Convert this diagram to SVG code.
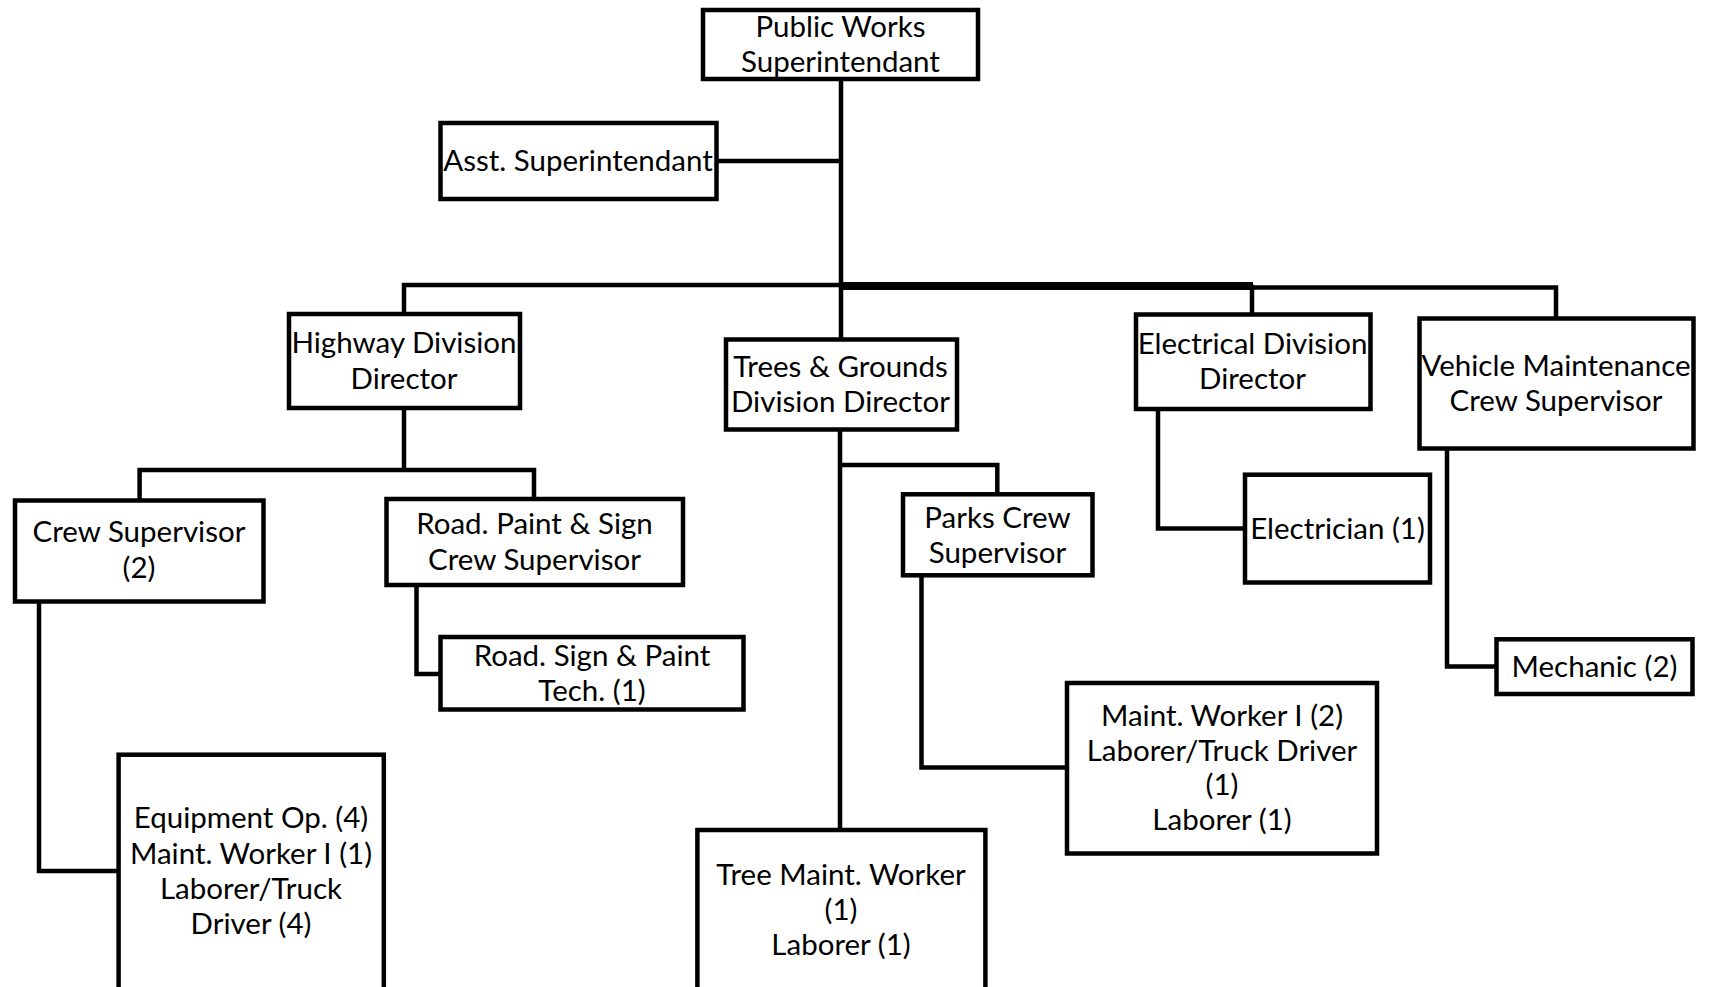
<svg xmlns="http://www.w3.org/2000/svg" width="1709" height="987" viewBox="0 0 1709 987">
<style>
.box{fill:#fff;stroke:#000;stroke-width:4.5}
.ln{fill:none;stroke:#000;stroke-width:4.5;stroke-linecap:square}
text{font-family:Lato,"Open Sans","Liberation Sans",sans-serif;font-size:29.5px;fill:#000;text-anchor:middle}
</style>
<rect width="1709" height="987" fill="#fff"/>
<g id="connectors">
<path class="ln" d="M841 81V285M718.5 161H841M404 285H841M1253 287.5H1556M404 285V312M841 285V337.5M1252 287V312.5M1556 287.5V316.5"/>
<path d="M841 286H1253" stroke="#000" stroke-width="8" fill="none"/>
<path class="ln" d="M404 410V470M139.6 470H534M139.6 470V498.5M534 470V497"/>
<path class="ln" d="M39 603.5V871H116.6"/>
<path class="ln" d="M416.5 587V674H438.5"/>
<path class="ln" d="M840 431.5V828M840 465H997.3V492.3"/>
<path class="ln" d="M921.5 577.3V767.5H1065"/>
<path class="ln" d="M1158 411V528.5H1243"/>
<path class="ln" d="M1447 450.5V666.5H1494.5"/>
</g>
<g id="n-public-works"><rect class="box" x="703" y="10" width="275" height="69"/><text x="840.5" y="36.5">Public Works</text><text x="840.5" y="71.5">Superintendant</text></g>
<g id="n-asst"><rect class="box" x="440.5" y="123" width="276" height="76"/><text x="578" y="170.5">Asst. Superintendant</text></g>
<g id="n-highway"><rect class="box" x="289" y="314" width="231" height="94"/><text x="404" y="352.5">Highway Division</text><text x="404" y="388.5">Director</text></g>
<g id="n-trees"><rect class="box" x="726" y="339.5" width="231" height="90"/><text x="840.5" y="376.5">Trees &amp; Grounds</text><text x="840.5" y="411.5">Division Director</text></g>
<g id="n-electrical"><rect class="box" x="1136" y="314.5" width="234.5" height="94.5"/><text x="1252.5" y="353.5">Electrical Division</text><text x="1252.5" y="388.5">Director</text></g>
<g id="n-vehicle"><rect class="box" x="1419.5" y="318.5" width="274" height="130"/><text x="1556" y="375.5">Vehicle Maintenance</text><text x="1556" y="410.5">Crew Supervisor</text></g>
<g id="n-crew-sup"><rect class="box" x="15" y="500.5" width="248.5" height="101"/><text x="139" y="542">Crew Supervisor</text><text x="139" y="578">(2)</text></g>
<g id="n-road-paint"><rect class="box" x="386.5" y="499" width="296.5" height="86"/><text x="534.5" y="533.5">Road. Paint &amp; Sign</text><text x="534.5" y="569.5">Crew Supervisor</text></g>
<g id="n-road-sign"><rect class="box" x="440.5" y="637" width="303" height="72.5"/><text x="592" y="665.5">Road. Sign &amp; Paint</text><text x="592" y="700.5">Tech. (1)</text></g>
<g id="n-parks"><rect class="box" x="903" y="494.3" width="189.5" height="81"/><text x="997.5" y="528">Parks Crew</text><text x="997.5" y="563">Supervisor</text></g>
<g id="n-electrician"><rect class="box" x="1245" y="474.7" width="185" height="107.8"/><text x="1337.5" y="539">Electrician (1)</text></g>
<g id="n-mechanic"><rect class="box" x="1496.5" y="639.3" width="196" height="54.7"/><text x="1594.5" y="676.5">Mechanic (2)</text></g>
<g id="n-maint-worker"><rect class="box" x="1067" y="683" width="310" height="170.5"/><text x="1222" y="725.5">Maint. Worker I (2)</text><text x="1222" y="760.5">Laborer/Truck Driver</text><text x="1222" y="795">(1)</text><text x="1222" y="830">Laborer (1)</text></g>
<g id="n-equipment"><rect class="box" x="118.6" y="754.7" width="265.2" height="300"/><text x="251" y="828">Equipment Op. (4)</text><text x="251" y="864">Maint. Worker I (1)</text><text x="251" y="899">Laborer/Truck</text><text x="251" y="933.5">Driver (4)</text></g>
<g id="n-tree-maint"><rect class="box" x="697.4" y="830" width="288" height="300"/><text x="841" y="884.5">Tree Maint. Worker</text><text x="841" y="919.5">(1)</text><text x="841" y="954.5">Laborer (1)</text></g>
</svg>
